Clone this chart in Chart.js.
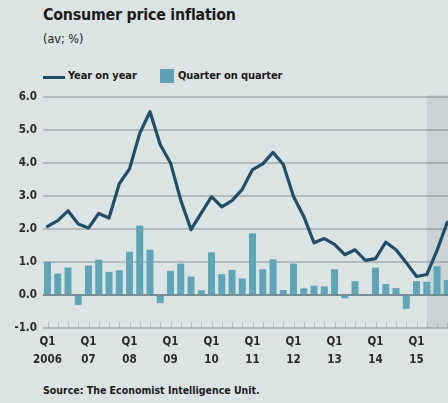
<!DOCTYPE html>
<html>
<head>
<meta charset="utf-8">
<script src="https://cdn.jsdelivr.net/npm/chart.js@4/dist/chart.umd.min.js"></script>
<style>
  html, body { margin: 0; padding: 0; }
  body {
    width: 448px; height: 403px; overflow: hidden; position: relative;
    background: #dce3e3; color: #1a1a1a;
    font-family: "DejaVu Sans Condensed", "Liberation Sans Narrow", "Roboto", sans-serif;
  }
  .abs { position: absolute; white-space: nowrap; }
  #title { left: 43px; top: 5px; font-size: 15.8px; font-weight: bold; letter-spacing: -0.2px; }
  #sub { left: 43px; top: 31px; font-size: 12.5px; color: #222; }
  .legtxt { top: 69px; font-size: 11px; font-weight: bold; letter-spacing: -0.1px; }
  #swLine { left: 43px; top: 76px; width: 22px; height: 3px; background: #1f4d6a; }
  #swBar { left: 160px; top: 69px; width: 14px; height: 14px; background: #5ca2b6; }
  #source { left: 43px; top: 384px; font-size: 10.5px; font-weight: bold; }
  #wrap { position: absolute; left: 0; top: 84px; width: 448px; height: 290px; }
</style>
</head>
<body>
<div class="abs" id="title">Consumer price inflation</div>
<div class="abs" id="sub">(av; %)</div>
<div class="abs" id="swLine"></div>
<div class="abs legtxt" style="left:68px">Year on year</div>
<div class="abs" id="swBar"></div>
<div class="abs legtxt" style="left:178px">Quarter on quarter</div>
<div id="wrap"><canvas id="c"></canvas></div>
<div class="abs" id="source">Source: The Economist Intelligence Unit.</div>

<script>
// Quarterly series, 2006 Q1 to 2015 Q4
const yearLabels = ['2006', '07', '08', '09', '10', '11', '12', '13', '14', '15'];
const quarterNames = ['Q1', 'Q2', 'Q3', 'Q4'];
const categories = [];
yearLabels.forEach(y => quarterNames.forEach(q => categories.push(q + ' ' + y)));

// Consumer prices, % change on a year earlier
const yearOnYear = [
  2.08, 2.25, 2.55, 2.15, 2.03, 2.47, 2.33, 3.37,
  3.82, 4.9, 5.55, 4.55, 4.0, 2.87, 1.98, 2.48,
  2.98, 2.67, 2.86, 3.2, 3.8, 3.97, 4.32, 3.95,
  2.98, 2.38, 1.58, 1.71, 1.53, 1.22, 1.37, 1.05,
  1.1, 1.6, 1.37, 0.98, 0.56, 0.62, 1.35, 2.2
];

// Consumer prices, % change on previous quarter
const quarterOnQuarter = [
  1.0, 0.65, 0.83, -0.3, 0.89, 1.07, 0.7, 0.75,
  1.31, 2.1, 1.37, -0.25, 0.73, 0.95, 0.56, 0.14,
  1.29, 0.63, 0.76, 0.5, 1.87, 0.78, 1.08, 0.15,
  0.95, 0.2, 0.28, 0.26, 0.78, -0.1, 0.42, 0.02,
  0.83, 0.33, 0.21, -0.42, 0.42, 0.4, 0.87, 0.45
];

const yTicks = [-1, 0, 1, 2, 3, 4, 5, 6];
const forecastFrom = 37; // first forecast quarter index

const FONT = '"DejaVu Sans Condensed", "Liberation Sans Narrow", "Roboto", sans-serif';
const GRID = 'rgba(150,160,160,0.6)';

// Shaded forecast band, quarterly ticks on the base line, and the zero line
const decor = {
  id: 'decor',
  beforeDatasetsDraw(chart) {
    const { ctx, chartArea: a, scales: { x } } = chart;
    const x0 = x.getPixelForValue(forecastFrom);
    ctx.save();
    ctx.fillStyle = 'rgba(110,140,140,0.17)';
    ctx.fillRect(x0, a.top - 2, a.right - x0, a.bottom - a.top + 2);
    ctx.strokeStyle = GRID;
    ctx.lineWidth = 1;
    for (let i = 0; i < categories.length; i++) {
      const px = Math.round(x.getPixelForValue(i)) + 0.5;
      ctx.beginPath();
      ctx.moveTo(px, a.bottom);
      ctx.lineTo(px, a.bottom - 5);
      ctx.stroke();
    }
    ctx.restore();
  },
  afterDatasetDraw(chart, args) {
    if (args.index !== 0) return;
    const { ctx, chartArea: a, scales: { y } } = chart;
    const py = y.getPixelForValue(0);
    ctx.save();
    ctx.strokeStyle = '#55737d';
    ctx.lineWidth = 1.5;
    ctx.beginPath();
    ctx.moveTo(a.left, py);
    ctx.lineTo(a.right, py);
    ctx.stroke();
    ctx.restore();
  }
};

new Chart(document.getElementById('c'), {
  data: {
    datasets: [
      {
        type: 'bar',
        label: 'Quarter on quarter',
        data: quarterOnQuarter.map((v, i) => ({ x: i, y: v })),
        backgroundColor: '#5ea5b8',
        barPercentage: 0.68,
        categoryPercentage: 1,
        order: 2
      },
      {
        type: 'line',
        label: 'Year on year',
        data: yearOnYear.map((v, i) => ({ x: i, y: v })),
        borderColor: '#1f4d6a',
        borderWidth: 3.2,
        pointRadius: 0,
        tension: 0,
        borderJoinStyle: 'round',
        borderCapStyle: 'round',
        order: 1
      }
    ]
  },
  options: {
    responsive: true,
    maintainAspectRatio: false,
    animation: false,
    layout: { padding: { top: 10, left: 0, right: 0, bottom: 0 } },
    plugins: { legend: { display: false }, tooltip: { enabled: false } },
    scales: {
      x: {
        type: 'linear',
        offset: false,
        min: -0.44,
        max: 39.07,
        afterBuildTicks(scale) {
          scale.ticks = yearLabels.map((_, i) => ({ value: i * 4 }));
        },
        afterFit(scale) { scale.height = 46; },
        grid: { display: false, drawTicks: false },
        border: { display: false },
        ticks: {
          autoSkip: false,
          maxRotation: 0,
          padding: 5,
          color: '#2a2a2a',
          font: { family: FONT, size: 11.5, weight: 'bold', lineHeight: 1.55 },
          callback(v) {
            const yi = Math.round(v) / 4;
            return ['Q1', yearLabels[yi]];
          }
        }
      },
      y: {
        min: -1,
        max: 6,
        afterBuildTicks(scale) {
          scale.ticks = yTicks.map(v => ({ value: v }));
        },
        afterFit(scale) { scale.width = 43; },
        grid: {
          drawTicks: false,
          lineWidth: 2,
          color: ctx => (ctx.tick && ctx.tick.value === 0) ? 'rgba(0,0,0,0)' : GRID
        },
        border: { display: false },
        ticks: {
          padding: 6,
          color: '#2a2a2a',
          font: { family: FONT, size: 11.5, weight: 'bold' },
          callback: v => v.toFixed(1)
        }
      }
    }
  },
  plugins: [decor]
});
</script>
</body>
</html>
